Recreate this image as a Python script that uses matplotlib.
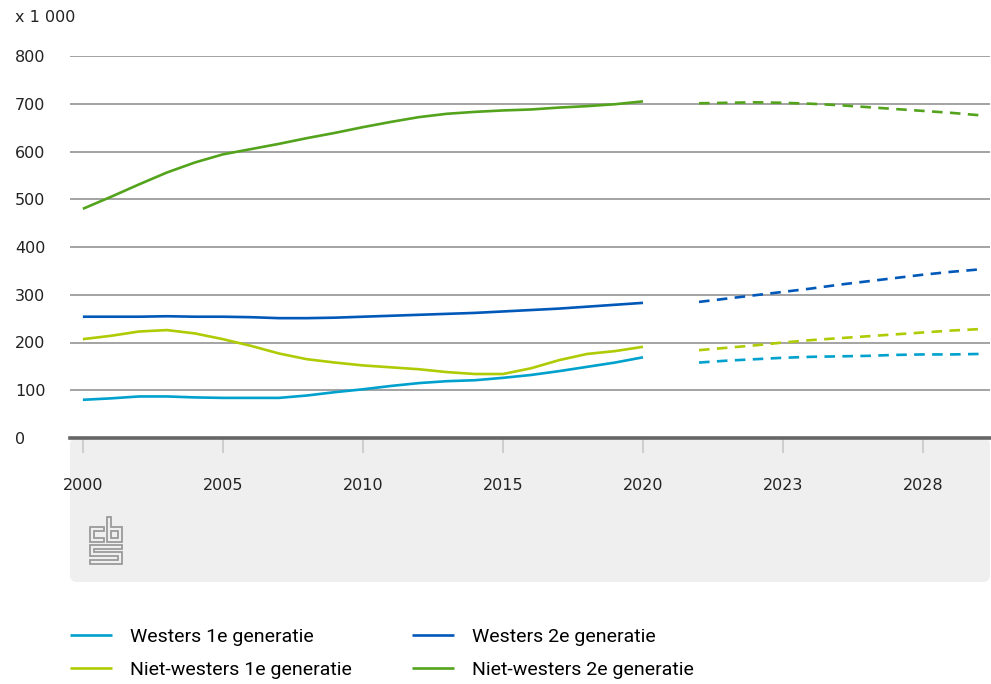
import numpy as np
import matplotlib
matplotlib.use("Agg")
import matplotlib.pyplot as plt
from matplotlib.patches import FancyBboxPatch, Polygon

# data (x 1 000)
years_hist = list(range(2000, 2021))
years_fc = list(range(2020, 2031))

westers_1e = [80, 83, 87, 87, 85, 84, 84, 84, 89, 96, 102, 109, 115, 119, 121,
              126, 132, 140, 149, 158, 169]
westers_2e = [254, 254, 254, 255, 254, 254, 253, 251, 251, 252, 254, 256, 258,
              260, 262, 265, 268, 271, 275, 279, 283]
nw_1e = [207, 214, 223, 226, 219, 207, 193, 177, 165, 158, 152, 148, 144, 138,
         134, 134, 146, 163, 176, 182, 191]
nw_2e = [480, 505, 531, 556, 577, 594, 605, 616, 628, 639, 651, 662, 672, 679,
         683, 686, 688, 692, 695, 699, 705]

westers_1e_fc = [158, 162, 165, 168, 170, 171, 172, 174, 175, 175, 176]
westers_2e_fc = [285, 292, 299, 306, 313, 321, 328, 335, 342, 348, 353]
nw_1e_fc = [184, 189, 194, 200, 205, 209, 213, 217, 221, 225, 228]
nw_2e_fc = [701, 702, 703, 702, 700, 697, 693, 689, 685, 681, 676]

labels = ["Westers 1e generatie", "Niet-westers 1e generatie",
          "Westers 2e generatie", "Niet-westers 2e generatie"]
colors = ["#00a1cd", "#afcb05", "#0058b8", "#53a31d"]
hist = [westers_1e, nw_1e, westers_2e, nw_2e]
fc = [westers_1e_fc, nw_1e_fc, westers_2e_fc, nw_2e_fc]

xtick_years = [2000, 2005, 2010, 2015, 2020, 2023, 2028]
ytick_vals = [0, 100, 200, 300, 400, 500, 600, 700, 800]

gap = 2  # forecast block is shifted two slots to the right
pos_hist = np.array(years_hist) - 2000
pos_fc = np.array(years_fc) - 2000 + gap
xtick_pos = [y - 2000 if y <= 2020 else y - 2000 + gap for y in xtick_years]

W, H = 991, 684
fig = plt.figure(figsize=(W / 100, H / 100), dpi=100)
ax = fig.add_axes([70 / W, (H - 438) / H, 920 / W, (438 - 56) / H])
ax.patch.set_alpha(0)


def px(x, y):
    return (x / 100, (H - y) / 100)


# grey panel under the axis
panel = FancyBboxPatch(px(70, 582), 920 / 100, (582 - 438) / 100,
                       boxstyle="round,pad=0,rounding_size=0.07",
                       transform=fig.dpi_scale_trans, facecolor="#efefef",
                       edgecolor="none", zorder=-10)
fig.add_artist(panel)

# cbs logo, rough outline
logo_shapes = [
    [(104, 527), (90, 527), (90, 542), (104, 542), (104, 538), (94, 538), (94, 531), (104, 531)],
    [(107, 517), (111, 517), (111, 527), (122, 527), (122, 542), (107, 542)],
    [(111, 531), (118, 531), (118, 538), (111, 538)],
    [(90, 545), (122, 545), (122, 549), (94, 549), (94, 552), (122, 552), (122, 564),
     (90, 564), (90, 560), (118, 560), (118, 556), (90, 556)],
]
for shape in logo_shapes:
    fig.add_artist(Polygon([px(a, b) for a, b in shape], closed=True,
                           transform=fig.dpi_scale_trans, fill=False,
                           edgecolor="#9a9a9a", linewidth=1.3, zorder=-5))

for h, f, c, lab in zip(hist, fc, colors, labels):
    ax.plot(pos_hist, h, color=c, lw=1.9, label=lab, solid_capstyle="butt")
    ax.plot(pos_fc, f, color=c, lw=1.9, linestyle=(0, (4, 2.8)))

ax.set_xlim(-0.46, 32.39)
ax.set_ylim(0, 800)
ax.set_yticks(ytick_vals)
ax.set_yticklabels([str(v) for v in ytick_vals])
ax.set_xticks(xtick_pos)
ax.set_xticklabels([str(y) for y in xtick_years])

ax.grid(axis="y", color="#8a8a8a", lw=1.1)
ax.set_axisbelow(True)
for s in ["top", "right", "left"]:
    ax.spines[s].set_visible(False)
ax.spines["bottom"].set_color("#666666")
ax.spines["bottom"].set_linewidth(2.6)
ax.spines["bottom"].set_zorder(5)

ax.tick_params(axis="y", length=0, pad=55 * 0.72, labelsize=11.5, labelcolor="#222222")
for t in ax.get_yticklabels():
    t.set_horizontalalignment("left")
ax.tick_params(axis="x", length=10.5, width=1.2, color="#c8c8c8", pad=18,
               labelsize=11.5, labelcolor="#222222")

fig.text(15 / W, (H - 18) / H, "x 1 000", fontsize=11.5, color="#222222",
         ha="left", va="center")

fig.legend(loc="upper left", bbox_to_anchor=(70 / W, (H - 628) / H), ncol=2,
           frameon=False, handlelength=2.16, handletextpad=0.93,
           columnspacing=3.1, labelspacing=0.78, borderpad=0, borderaxespad=0,
           prop={"family": "Roboto", "size": 14})

fig.savefig("out.png", dpi=100)
